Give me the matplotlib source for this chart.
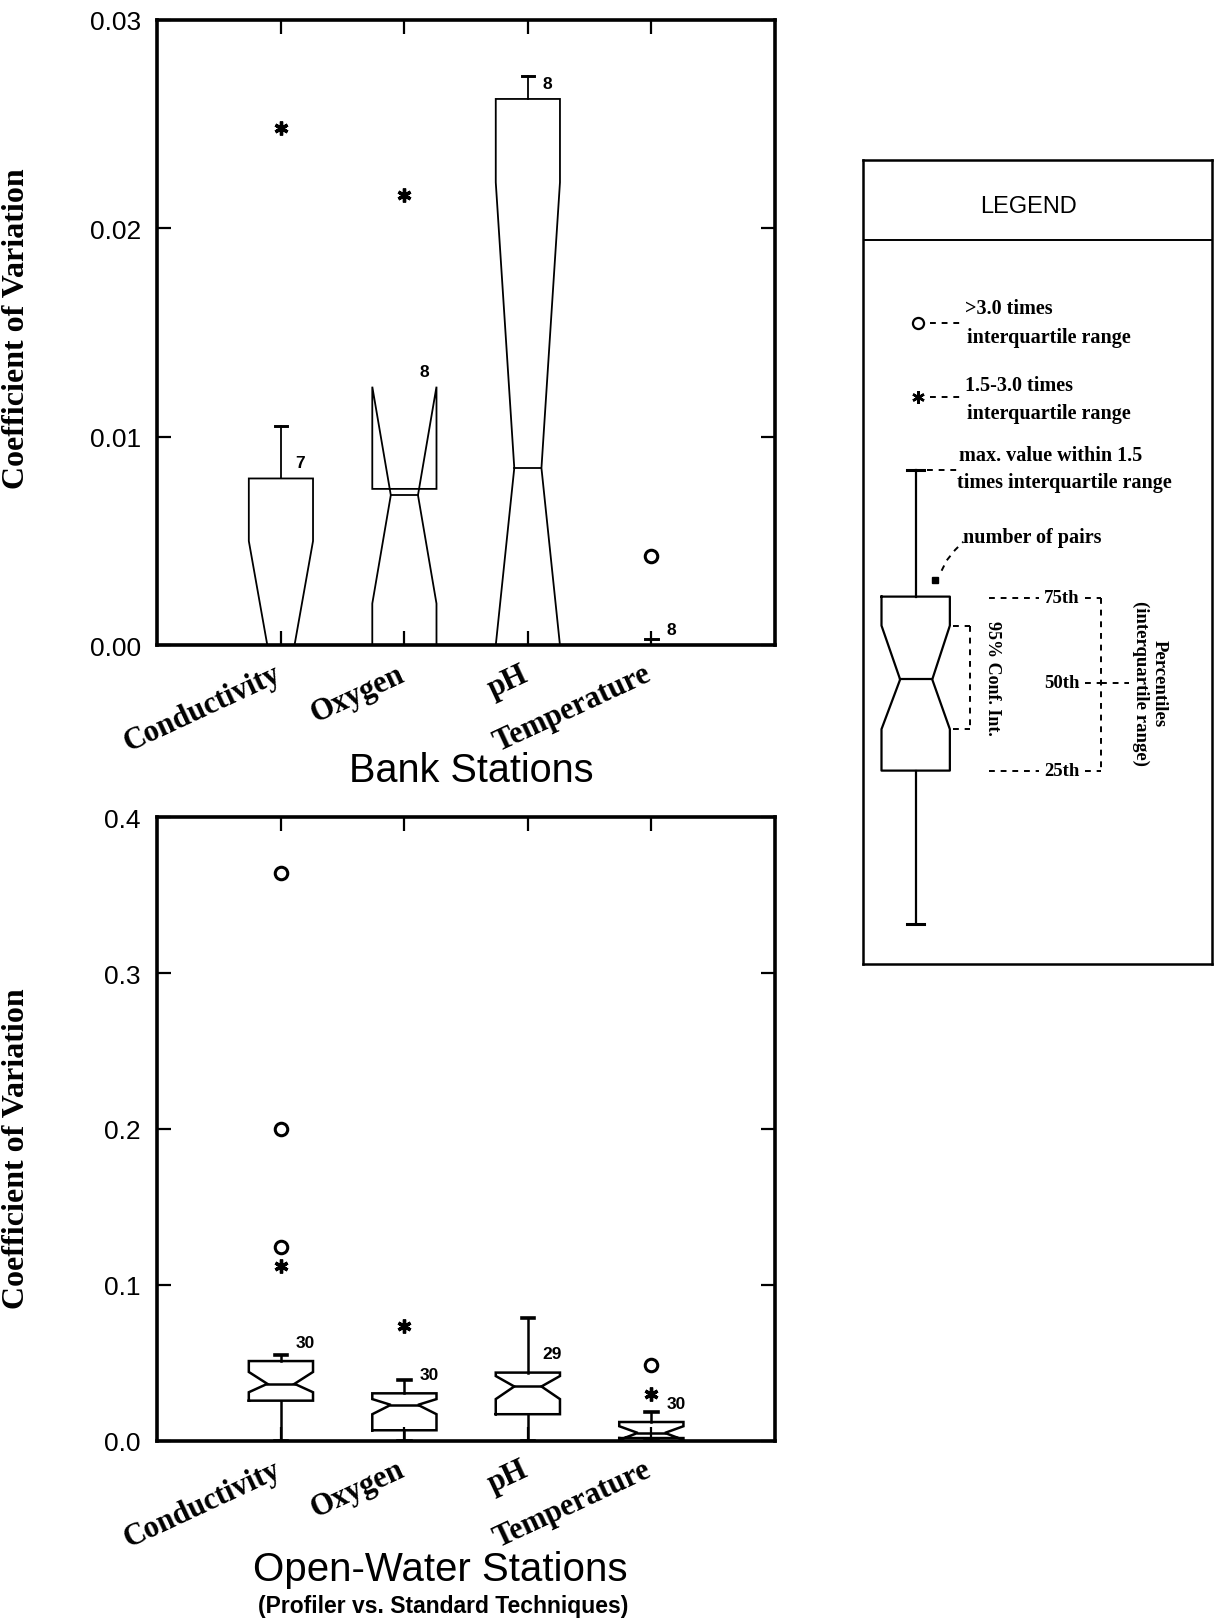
import matplotlib
matplotlib.use("Agg")
import matplotlib.pyplot as plt
from matplotlib.transforms import offset_copy, blended_transform_factory
import numpy as np

# ---------------- data ----------------
categories = ["Conductivity", "Oxygen", "pH", "Temperature"]

# Bank stations (coefficient of variation)
bank_q1 = [0.0, 0.0, 0.0, 0.0]
bank_med = [0.0, 0.0072, 0.0085, 0.0]
bank_q3 = [0.0080, 0.0075, 0.0262, 0.0]
bank_cilo = [-0.0050, 0.0020, 0.0, 0.0]
bank_cihi = [0.0050, 0.0124, 0.0222, 0.0]
bank_whislo = [0.0, 0.0, 0.0, 0.0]
bank_whishi = [0.0105, 0.0075, 0.0273, 0.0003]
bank_far = [[], [], [], [0.0043]]          # >3.0 IQR (circles)
bank_near = [[0.0248], [0.0216], [], []]   # 1.5-3.0 IQR (stars)
bank_n = [7, 8, 8, 8]

# Open-water stations
ow_q1 = [0.0257, 0.0067, 0.0170, 0.0017]
ow_med = [0.0365, 0.0230, 0.0348, 0.0050]
ow_q3 = [0.0511, 0.0304, 0.0437, 0.0120]
ow_cilo = [0.0311, 0.0170, 0.0267, 0.0005]
ow_cihi = [0.0441, 0.0267, 0.0415, 0.0093]
ow_whislo = [0.0, 0.0, 0.0, 0.0]
ow_whishi = [0.0548, 0.0391, 0.0789, 0.0185]
ow_far = [[0.364, 0.200, 0.124], [], [], [0.0485]]
ow_near = [[0.112], [0.0739], [], [0.030]]
ow_n = [30, 30, 29, 30]

bank_yticks = [0.00, 0.01, 0.02, 0.03]
ow_yticks = [0.0, 0.1, 0.2, 0.3, 0.4]

# ---------------- style ----------------
SANS = ["Liberation Sans", "DejaVu Sans"]
SERIF = ["Liberation Serif", "DejaVu Serif"]
plt.rcParams["font.family"] = SANS

W, H = 1214, 1624
fig = plt.figure(figsize=(W / 100, H / 100), dpi=100)
RW, RH = 1172.0, 1568.0   # reference (shrunk) layout coordinates


def frac_box(x0, y0, x1, y1):
    return [x0 / RW, 1 - y1 / RH, (x1 - x0) / RW, (y1 - y0) / RH]


def notched(ax, pos, q1, med, q3, cilo, cihi, wlo, whi, width=0.52, waist=0.22,
            lw=1.6, cap=0.1):
    hw, nw = width / 2, waist / 2
    xs = [pos - hw, pos + hw, pos + hw, pos + nw, pos + hw, pos + hw,
          pos - hw, pos - hw, pos - nw, pos - hw, pos - hw]
    ys = [q1, q1, cilo, med, cihi, q3, q3, cihi, med, cilo, q1]
    ax.plot(xs, ys, color="k", lw=lw, solid_joinstyle="miter")
    ax.plot([pos - nw, pos + nw], [med, med], color="k", lw=lw)
    if whi > q3:
        ax.plot([pos, pos], [q3, whi], color="k", lw=lw)
        ax.plot([pos - cap / 2, pos + cap / 2], [whi, whi], color="k", lw=lw + 0.8)
    if wlo < q1:
        ax.plot([pos, pos], [wlo, q1], color="k", lw=lw)
        ax.plot([pos - cap / 2, pos + cap / 2], [wlo, wlo], color="k", lw=lw + 0.8)


def panel(ax, q1, med, q3, cilo, cihi, wlo, whi, far, near, ns, ymax, yticks, fmt,
          lw, nlab_off):
    ax.set_xlim(0, 5)
    ax.set_ylim(0, ymax)
    pos = np.arange(1, len(categories) + 1)
    for i, p in enumerate(pos):
        notched(ax, p, q1[i], med[i], q3[i], cilo[i], cihi[i], wlo[i], whi[i], lw=lw)
        if far[i]:
            ax.plot([p] * len(far[i]), far[i], "o", mfc="none", mec="k", ms=9, mew=2.2,
                    clip_on=False)
        if near[i]:
            ax.plot([p] * len(near[i]), near[i], marker=(6, 2, 0), ls="none",
                    color="k", ms=10, mew=2.4)
        top = max(q3[i], cihi[i])
        ax.text(p + 0.12, top + nlab_off * ymax, str(ns[i]), fontsize=12.5,
                fontweight="bold", ha="left", va="center", family=SANS)
    for s in ax.spines.values():
        s.set_linewidth(2.6)
    ax.set_yticks(yticks)
    ax.set_yticklabels([fmt % v for v in yticks], fontsize=19)
    ax.set_xticks(pos)
    ax.set_xticklabels([])
    trans = offset_copy(blended_transform_factory(ax.transData, ax.transAxes),
                        fig=fig, x=-8, y=-14, units="dots")
    for p, lab in zip(pos, categories):
        ax.text(p, 0, lab, transform=trans, rotation=25, ha="right", va="top",
                rotation_mode="anchor", fontsize=22, fontweight="bold",
                family=SERIF)
    ax.tick_params(axis="both", direction="in", top=True, right=True,
                   length=10, width=1.6)
    ax.tick_params(axis="y", pad=12)
    ax.set_ylabel("Coefficient of Variation", fontsize=23, fontweight="bold",
                  family=SERIF)


ax1 = fig.add_axes(frac_box(152, 20, 748, 624))
panel(ax1, bank_q1, bank_med, bank_q3, bank_cilo, bank_cihi, bank_whislo,
      bank_whishi, bank_far, bank_near, bank_n, 0.03, bank_yticks, "%.2f", 1.3, 0.025)
ax1.yaxis.set_label_coords(-0.205, 0.507)
ax1.text(0.508, -0.2, "Bank Stations", transform=ax1.transAxes, ha="center",
         va="center", fontsize=28.5)

ax2 = fig.add_axes(frac_box(152, 790, 748, 1392))
panel(ax2, ow_q1, ow_med, ow_q3, ow_cilo, ow_cihi, ow_whislo, ow_whishi,
      ow_far, ow_near, ow_n, 0.4, ow_yticks, "%.1f", 1.8, 0.03)
ax2.yaxis.set_label_coords(-0.205, 0.47)
ax2.text(0.458, -0.205, "Open-Water Stations", transform=ax2.transAxes,
         ha="center", va="center", fontsize=29)
ax2.text(0.463, -0.264, "(Profiler vs. Standard Techniques)",
         transform=ax2.transAxes, ha="center", va="center", fontsize=16.5,
         fontweight="bold")

# ---------------- legend panel ----------------
L0, T0, R0, B0 = 833, 155, 1170, 932
lg = fig.add_axes(frac_box(L0, T0, R0, B0))
lg.set_xlim(L0, R0)
lg.set_ylim(B0, T0)
lg.set_xticks([])
lg.set_yticks([])
for s in lg.spines.values():
    s.set_linewidth(1.8)
k = dict(color="k")
lg.plot([L0, R0], [233, 233], color="k", lw=1.4)
lg.text(993, 200, "LEGEND", ha="center", va="center", fontsize=17)

tkw = dict(fontsize=14.5, fontweight="bold", family=SERIF, ha="left", va="center")
dash = dict(color="k", lw=1.4, ls=(0, (3, 3)))

lg.plot([886], [313], "o", mfc="none", mec="k", ms=8, mew=1.6)
lg.plot([898, 932], [313, 313], **dash)
lg.text(932, 298, ">3.0 times", **tkw)
lg.text(934, 326, "interquartile range", **tkw)

lg.plot([886], [384], marker=(6, 2, 0), ls="none", color="k", ms=9, mew=1.8)
lg.plot([898, 932], [384, 384], **dash)
lg.text(932, 373, "1.5-3.0 times", **tkw)
lg.text(934, 400, "interquartile range", **tkw)

# sample notched box
cx, bl, br = 884, 851, 917
lw = 1.6
lg.plot([cx, cx], [455, 577], **k, lw=lw)
lg.plot([cx - 8, cx + 8], [455, 455], **k, lw=2.2)
lg.plot([bl, br, br, 900, br, br, bl, bl, 869, bl, bl],
        [577, 577, 605, 657, 705, 745, 745, 705, 657, 605, 577], **k, lw=lw)
lg.plot([869, 900], [657, 657], **k, lw=lw)
lg.plot([cx, cx], [745, 893], **k, lw=lw)
lg.plot([cx - 8, cx + 8], [893, 893], **k, lw=2.2)

lg.plot([895, 925], [455, 455], **dash)
lg.text(926, 440, "max. value within 1.5", **tkw)
lg.text(924, 466, "times interquartile range", **tkw)

lg.plot([903], [561], "s", color="k", ms=4)
lg.plot([909, 914, 922, 930], [552, 542, 532, 524], **dash)
lg.text(930, 519, "number of pairs", **tkw)

# 95% CI bracket
lg.plot([920, 936], [605, 605], **dash)
lg.plot([920, 936], [705, 705], **dash)
lg.plot([936, 936], [605, 705], **dash)
lg.text(958, 655, "95% Conf. Int.", rotation=-90, ha="center", va="center",
        fontsize=13, fontweight="bold", family=SERIF)

# percentiles
for yy, lab in [(578, "75th"), (660, "50th"), (745, "25th")]:
    if lab != "50th":
        lg.plot([955, 1003], [yy, yy], **dash)
    lg.text(1025, yy, lab, ha="center", va="center", fontsize=13.5,
            fontweight="bold", family=SERIF)
    lg.plot([1047, 1063], [yy, yy], **dash)
lg.plot([1063, 1090], [660, 660], **dash)
lg.plot([1063, 1063], [578, 745], **dash)
lg.text(1110, 660, "Percentiles\n(interquartile range)", rotation=-90,
        ha="center", va="center", fontsize=13.5, fontweight="bold",
        family=SERIF, multialignment="center", linespacing=1.1)

fig.savefig("out.png", dpi=100)
